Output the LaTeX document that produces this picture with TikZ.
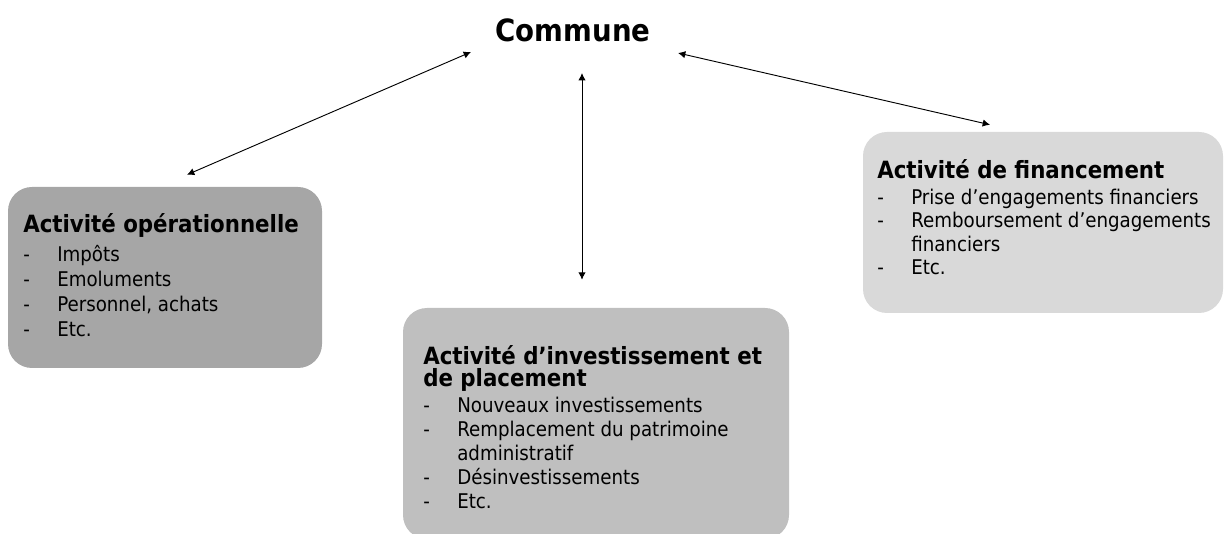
\documentclass[tikz,border=0pt]{standalone}
\usepackage{fontspec}
\setmainfont{DejaVu Sans Condensed}
\usetikzlibrary{calc,arrows.meta}

\definecolor{opgray}{HTML}{A6A6A6}
\definecolor{invgray}{HTML}{BFBFBF}
\definecolor{fingray}{HTML}{D9D9D9}

\newcommand{\itm}{\makebox[25.5pt][l]{-}}
\newcommand{\cont}{\hspace*{25.5pt}}
\newcommand{\hd}{\fontsize{17.8}{20}\selectfont\bfseries}
\newcommand{\bd}{\fontsize{15.2}{18}\selectfont}

\tikzset{
    panel/.style={rounded corners=18pt, inner sep=0pt, draw=none},
    line/.style={anchor=base west, inner sep=0pt, font=\bd},
    head/.style={anchor=base west, inner sep=0pt, font=\hd},
    link/.style={{Latex[length=5.5pt,width=5.5pt]}-{Latex[length=5.5pt,width=5.5pt]}, line width=0.7pt}
}

\begin{document}
\begin{tikzpicture}[x=0.75pt, y=-0.75pt]

        \useasboundingbox (0, 0) rectangle (1224, 534);

        % boxes
        \node[panel, fill=opgray, minimum width=235.5pt, minimum height=135.75pt] (oper) at (165, 277.5) {};
        \node[panel, fill=invgray, minimum width=289.5pt, minimum height=173.25pt] (invest) at (596, 423.5) {};
        \node[panel, fill=fingray, minimum width=270pt, minimum height=135.75pt] (fin) at (1043, 222.5) {};

        \node[font=\fontsize{23}{26}\selectfont\bfseries] (commune) at (573, 30) {Commune};

        % operational activity
        \node[head] (opHead) at (23, 233) {Activité opérationnelle};
        \node[line] (opA) at (23, 262) {\itm Impôts};
        \node[line] (opB) at (23, 287) {\itm Emoluments};
        \node[line] (opC) at (23, 312) {\itm Personnel, achats};
        \node[line] (opD) at (23, 337) {\itm Etc.};

        % investment activity
        \node[head] (invHead) at (423, 365) {Activité d’investissement et};
        \node[head] (invHeadB) at (423, 387) {de placement};
        \node[line] (invA) at (423, 412) {\itm Nouveaux investissements};
        \node[line] (invB) at (423, 436) {\itm Remplacement du patrimoine};
        \node[line] (invC) at (423, 460) {\cont administratif};
        \node[line] (invD) at (423, 484) {\itm Désinvestissements};
        \node[line] (invE) at (423, 508) {\itm Etc.};

        % financing activity
        \node[head] (finHead) at (877, 179) {Activité de financement};
        \node[line] (finA) at (877, 205) {\itm Prise d’engagements financiers};
        \node[line] (finB) at (877, 228) {\itm Remboursement d’engagements};
        \node[line] (finC) at (877, 252) {\cont financiers};
        \node[line] (finD) at (877, 275) {\itm Etc.};

        % arrows
        \draw[link] ($(commune)+(-102, 22)$) -- ($(oper.north)+(22, -12)$);
        \draw[link] ($(commune)+(9, 43)$) -- ($(invest.north)+(-14, -28)$);
        \draw[link] ($(commune)+(105, 23)$) -- ($(fin.north)+(-53, -7)$);

    \end{tikzpicture}
\end{document}
